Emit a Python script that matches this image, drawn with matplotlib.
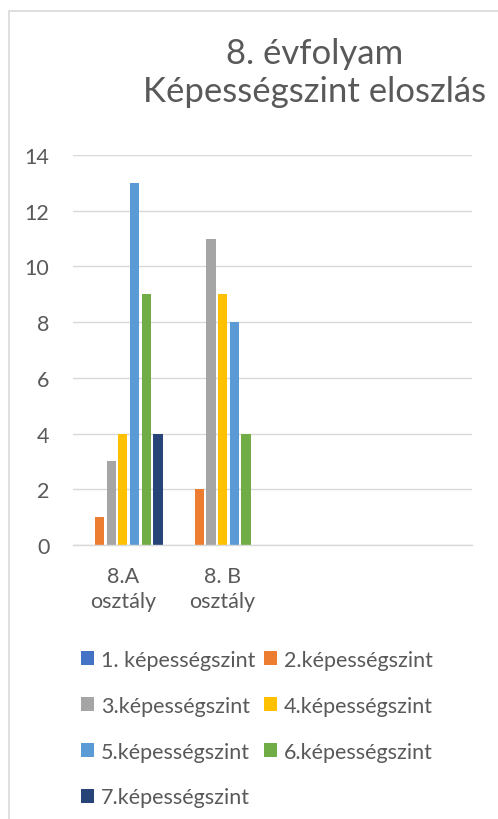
import numpy as np
import matplotlib
matplotlib.use("Agg")
import matplotlib.pyplot as plt
from matplotlib.patches import Rectangle, Patch

# categories (Excel keeps two empty slots on the axis)
categories = ["8.A\nosztály", "8. B\nosztály", "", ""]
series_names = ["1. képességszint", "2.képességszint", "3.képességszint",
                "4.képességszint", "5.képességszint", "6.képességszint",
                "7.képességszint"]
values_8a = [0, 1, 3, 4, 13, 9, 4]
values_8b = [0, 2, 11, 9, 8, 4, 0]

colors = ["#4472C4", "#ED7D31", "#A5A5A5", "#FFC000",
          "#5B9BD5", "#70AD47", "#264478"]

TEXT = "#595959"
GRID = "#D9D9D9"
FONT = ["Lato", "DejaVu Sans"]
plt.rcParams["font.family"] = FONT

W, H = 498, 820
fig = plt.figure(figsize=(W / 100, H / 100), dpi=100)

# chart frame (top and left edges visible in the crop)
fig.patches.append(Rectangle((9 / W, -0.1), 1.2, 1 - 12 / H + 0.1,
                             transform=fig.transFigure, facecolor="none",
                             edgecolor=GRID, linewidth=1.2))

ax = fig.add_axes([73 / W, 1 - 546 / H, (472 - 73) / W, (546 - 156) / H])

n = len(series_names)
bw = 1 / 10.81
step = bw * 1.27
x = np.arange(len(categories))
for i, name in enumerate(series_names):
    vals = [values_8a[i], values_8b[i], 0, 0]
    ax.bar(x + (i - (n - 1) / 2) * step, vals, width=bw,
           color=colors[i], label=name, zorder=3)

ax.set_xlim(-0.5, len(categories) - 0.5)
ax.set_ylim(0, 14)
ax.set_yticks(range(0, 15, 2))
ax.set_xticks(x)
ax.set_xticklabels(categories, linespacing=1.3)
ax.tick_params(axis="both", length=0, labelsize=15.5, colors=TEXT)
ax.tick_params(axis="y", pad=17)
ax.tick_params(axis="x", pad=15)
ax.grid(axis="y", color=GRID, linewidth=1, zorder=0)
for s in ["top", "right", "left"]:
    ax.spines[s].set_visible(False)
ax.spines["bottom"].set_color(GRID)
ax.spines["bottom"].set_linewidth(1)
ax.spines["bottom"].set_zorder(4)

fig.text(315 / W, 1 - 73 / H, "8. évfolyam\nKépességszint eloszlás",
         ha="center", va="center", fontsize=25, color=TEXT,
         linespacing=1.25)

# legend is filled row by row in the reference -> reorder for 2 columns
order = [0, 2, 4, 6, 1, 3, 5]
handles = [Patch(facecolor=colors[i]) for i in order]
labels = [series_names[i] for i in order]
fig.legend(handles, labels, ncol=2, loc="upper left",
           bbox_to_anchor=(81 / W, 1 - 651 / H), frameon=False,
           fontsize=15.5, labelcolor=TEXT, handlelength=0.62,
           handleheight=0.62, handletextpad=0.3, columnspacing=0.4,
           labelspacing=1.2, borderpad=0, borderaxespad=0)

fig.savefig("out.png", dpi=100, facecolor="white")
